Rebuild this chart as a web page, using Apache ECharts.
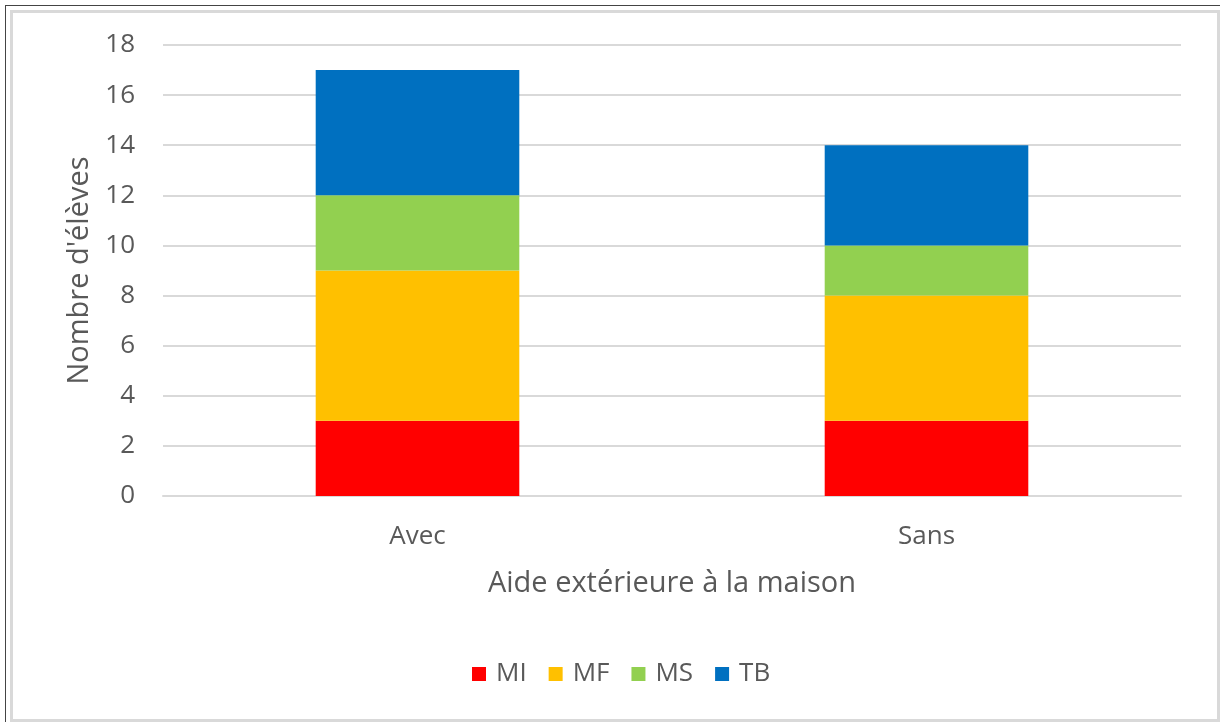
<!DOCTYPE html>
<html>
<head>
<meta charset="utf-8">
<script src="https://cdn.jsdelivr.net/npm/echarts@6/dist/echarts.min.js"></script>
<style>
  html, body { margin: 0; padding: 0; background: #fff; }
  .frame {
    position: absolute; left: 5px; top: 5px; width: 1215px; height: 717px;
    border-left: 1px solid #444; border-top: 1px solid #444; box-sizing: border-box;
  }
  .inner {
    position: absolute; left: 4px; top: 4px; right: 0; bottom: 0;
    border: 3px solid #d9d9d9; box-sizing: border-box;
  }
  #chart { position: absolute; left: 0; top: 0; width: 1220px; height: 722px; }
</style>
</head>
<body>
<div class="frame"><div class="inner"></div></div>
<div id="chart"></div>
<script>
const categories = ['Avec', 'Sans'];
const seriesNames = ['MI', 'MF', 'MS', 'TB'];
const valuesMI = [3, 3];
const valuesMF = [6, 5];
const valuesMS = [3, 2];
const valuesTB = [5, 4];
const colors = ['#ff0000', '#ffc000', '#92d050', '#0070c0'];

const chart = echarts.init(document.getElementById('chart'));
const font = "'Open Sans', 'Liberation Sans', sans-serif";
const allValues = [valuesMI, valuesMF, valuesMS, valuesTB];

chart.setOption({
  animation: false,
  textStyle: { fontFamily: font },
  grid: { left: 163, right: 39, top: 45, bottom: 226 },
  legend: {
    bottom: 30,
    left: 467,
    itemWidth: 14,
    itemHeight: 14,
    itemGap: 22,
    icon: 'rect',
    textStyle: { fontSize: 26, color: '#595959', fontFamily: font, padding: [0, 0, 0, 5] },
    data: seriesNames
  },
  xAxis: {
    type: 'category',
    data: categories,
    name: 'Aide extérieure à la maison',
    nameLocation: 'middle',
    nameGap: 73,
    nameTextStyle: { fontSize: 29, color: '#595959' },
    axisLine: { lineStyle: { color: '#d9d9d9', width: 2 } },
    axisTick: { show: false },
    axisLabel: { fontSize: 26, color: '#595959', margin: 28 }
  },
  yAxis: {
    type: 'value',
    min: 0,
    max: 18,
    interval: 2,
    name: "Nombre d'élèves",
    nameLocation: 'middle',
    nameGap: 68,
    nameTextStyle: { fontSize: 29, color: '#595959' },
    axisLine: { show: false },
    axisTick: { show: false },
    axisLabel: { fontSize: 26, color: '#595959', margin: 28 },
    splitLine: { lineStyle: { color: '#d9d9d9', width: 2 } }
  },
  series: seriesNames.map((name, i) => ({
    name: name,
    type: 'bar',
    stack: 'total',
    barWidth: '40%',
    itemStyle: { color: colors[i] },
    data: allValues[i]
  }))
});
</script>
</body>
</html>
